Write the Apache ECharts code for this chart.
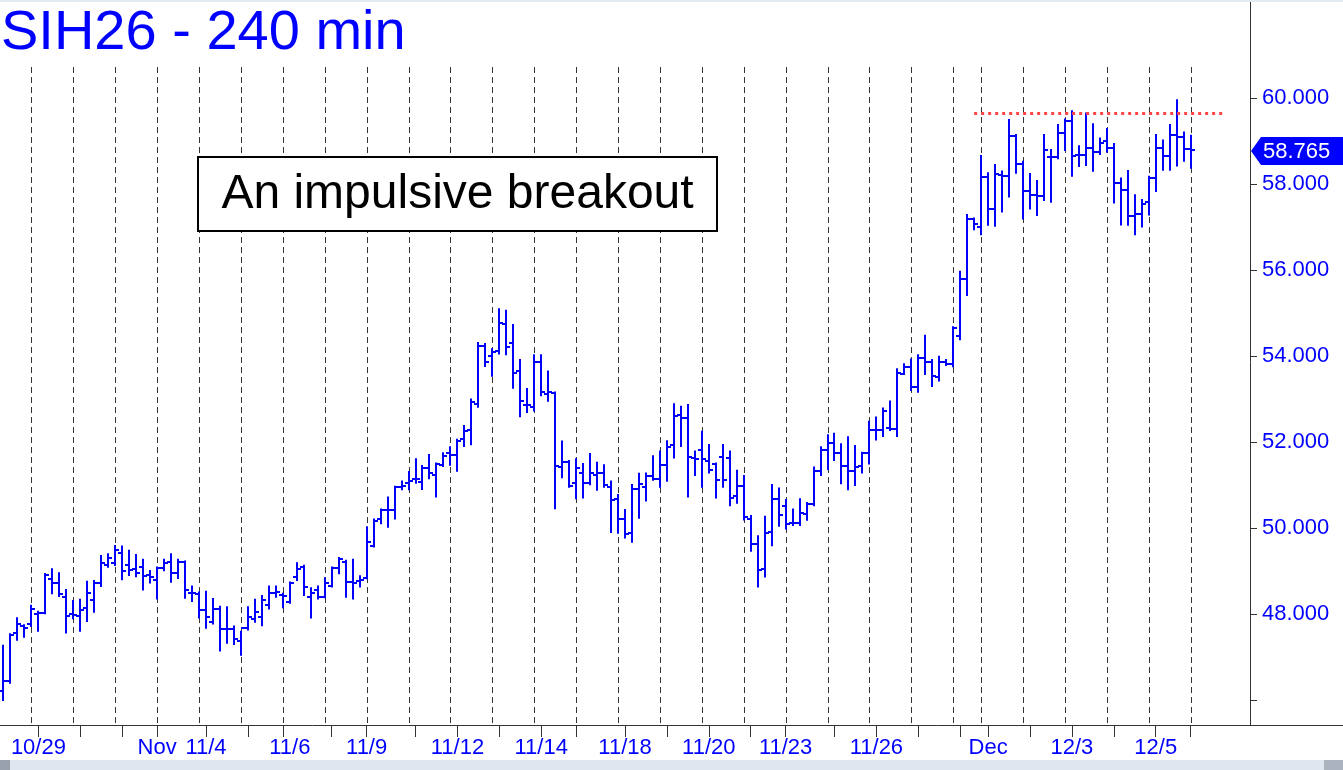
<!DOCTYPE html>
<html>
<head>
<meta charset="utf-8">
<script src="https://cdn.jsdelivr.net/npm/echarts@6/dist/echarts.min.js"></script>
<style>
html,body{margin:0;padding:0;background:#fff;}
#chart{width:1343px;height:770px;}
</style>
</head>
<body>
<div id="chart"></div>
<script>
// ---- DATA (240-minute OHLC bars, oldest first) ----
const opens = [46.20,46.45,47.57,47.72,47.76,48.00,48.03,48.81,48.71,48.40,
48.00,47.95,48.13,48.33,48.71,49.15,49.19,49.41,49.15,49.04,
49.10,48.91,48.79,49.08,49.22,48.96,49.22,48.50,48.46,48.09,
47.82,48.11,47.64,47.64,47.37,47.67,47.88,47.92,48.22,48.50,
48.44,48.29,48.85,49.10,48.40,48.56,48.40,48.64,49.08,49.22,
48.75,48.77,48.83,49.58,50.22,50.42,50.43,50.95,51.05,51.13,
51.08,51.39,51.23,51.46,51.74,51.70,52.06,52.28,52.88,54.23,
54.00,54.12,54.74,54.30,53.64,52.86,52.82,53.85,53.12,53.13,
51.43,51.53,51.05,51.29,51.05,51.23,51.27,50.96,50.67,50.20,
49.88,50.90,50.96,51.21,51.15,51.47,51.93,52.63,52.55,51.62,
51.81,51.56,51.49,51.66,51.62,50.74,50.98,50.22,49.62,49.04,
49.91,50.67,50.51,50.11,50.12,50.32,50.56,51.33,51.81,51.98,
51.75,51.44,51.33,51.44,51.74,52.28,52.28,52.32,52.30,53.58,
53.75,53.27,53.95,53.87,53.52,53.85,53.81,54.47,55.78,57.18,
57.01,58.16,57.41,58.21,58.19,59.12,58.47,57.84,57.74,57.72,
58.62,58.62,59.19,59.47,58.67,58.67,58.83,58.74,59.00,58.84,
58.02,57.86,57.26,57.30,57.57,58.13,58.84,58.65,59.14,59.09,
58.81];
const highs = [47.26,47.53,47.90,47.74,48.19,48.05,48.93,49.04,48.95,48.56,
48.30,48.33,48.75,48.77,49.35,49.39,49.58,49.57,49.47,49.37,
49.26,49.00,49.08,49.26,49.39,49.26,49.22,48.64,48.50,48.52,
48.35,48.17,48.16,47.71,47.59,48.16,48.33,48.42,48.64,48.64,
48.47,48.73,49.18,49.12,48.60,48.64,48.83,49.08,49.30,49.24,
49.26,48.88,50.02,50.20,50.43,50.71,50.96,51.08,51.30,51.60,
51.44,51.70,51.50,51.74,51.88,52.05,52.37,52.99,54.30,54.28,
54.16,55.09,55.05,54.72,53.91,53.23,54.02,54.02,53.64,53.15,
52.01,51.56,51.60,51.49,51.72,51.52,51.46,51.08,50.77,50.42,
51.00,51.26,51.27,51.67,51.78,52.02,52.88,52.82,52.86,51.78,
52.24,51.93,51.50,51.93,51.78,51.33,51.21,50.28,49.81,50.26,
51.00,50.92,50.65,50.43,50.67,50.58,51.41,51.88,52.16,52.19,
51.95,52.11,51.91,51.75,52.47,52.57,52.78,52.94,53.69,53.81,
53.92,54.02,54.47,53.91,53.98,53.91,54.67,55.96,57.28,57.20,
58.65,58.25,58.44,58.29,59.49,59.14,58.52,58.23,58.07,59.14,
58.79,59.37,59.50,59.69,58.88,59.64,59.39,59.06,59.28,58.93,
58.13,58.30,57.74,57.63,58.17,59.14,59.01,59.37,59.95,59.20,
59.12];
const lows = [46.00,46.40,47.40,47.47,47.72,47.61,48.02,48.48,48.42,47.57,
47.90,47.61,47.84,48.05,48.65,49.10,49.14,48.81,48.91,48.88,
48.57,48.73,48.36,49.02,48.75,48.84,48.38,48.30,47.92,47.68,
47.78,47.15,47.33,47.30,47.05,47.64,47.82,47.74,48.13,48.40,
48.16,48.26,48.79,48.44,47.92,48.36,48.39,48.64,48.95,48.40,
48.36,48.64,48.83,49.57,50.11,50.03,50.22,50.90,50.90,51.05,
50.91,51.16,50.73,51.44,51.47,51.33,51.91,51.95,52.82,53.77,
53.54,54.06,54.04,53.26,52.60,52.70,52.73,53.09,52.96,50.46,
51.18,50.96,50.69,50.71,51.02,50.89,50.96,49.91,49.89,49.78,
49.68,50.24,50.64,51.12,50.96,51.10,51.64,51.91,50.73,51.23,
50.96,51.29,50.71,50.96,50.53,50.59,50.20,49.47,48.64,48.87,
49.60,50.05,49.99,50.07,50.07,50.19,50.53,51.23,51.37,51.58,
51.04,50.90,51.00,51.29,51.50,52.06,52.14,52.28,52.14,53.58,
53.21,53.17,53.58,53.30,53.43,53.79,53.76,54.39,55.42,56.95,
56.83,57.05,57.03,57.36,57.71,58.26,57.20,57.43,57.28,57.63,
57.59,58.60,58.79,58.19,58.42,58.44,58.31,58.70,58.75,57.57,
57.06,57.05,56.83,57.01,57.29,57.84,58.33,58.33,58.43,58.54,
58.38];
const closes = [46.44,47.51,47.76,47.67,48.11,48.02,48.91,48.71,48.46,47.95,
47.98,48.09,48.48,48.73,49.18,49.31,49.49,49.00,49.02,48.95,
48.88,48.87,49.06,49.19,48.95,49.22,48.56,48.48,48.09,47.94,
48.11,47.64,47.64,47.41,47.67,47.94,48.04,48.33,48.50,48.52,
48.42,48.71,49.04,48.62,48.48,48.40,48.71,49.06,49.27,48.75,
48.73,48.79,49.68,50.17,50.42,50.43,50.95,50.98,51.10,51.15,
51.39,51.29,51.49,51.68,51.70,52.03,52.26,52.92,54.23,53.87,
54.10,54.76,54.20,53.60,52.95,52.86,53.87,53.17,53.17,51.44,
51.53,50.98,51.39,51.05,51.29,51.29,51.01,50.64,50.20,49.85,
50.90,51.02,51.21,51.15,51.47,51.89,52.60,52.55,51.64,51.60,
51.60,51.36,51.12,51.12,50.69,50.98,50.25,49.62,49.02,49.89,
50.67,50.30,50.09,50.12,50.36,50.56,51.33,51.81,51.98,51.75,
51.44,51.33,51.43,51.75,52.28,52.28,52.73,52.30,53.60,53.75,
53.27,53.95,53.87,53.54,53.85,53.81,54.64,55.78,57.18,57.08,
58.16,57.43,58.23,58.19,59.12,58.47,57.84,57.74,57.72,58.79,
58.62,59.18,59.47,58.65,58.67,58.83,58.74,58.96,58.84,58.02,
57.86,57.26,57.30,57.53,58.13,58.84,58.65,59.14,59.09,58.81,
58.79];

// x-axis: bar slots (extra empty slots to the right of the last bar)
const slotCount = 179;
const categories = Array.from({length: slotCount}, (_, i) => String(i));

// date labels (bar index -> text)
const labelIdx  = [5, 22, 29, 41, 52, 65, 77, 89, 101, 112, 125, 141, 153, 165];
const labelText = ['10/29','Nov','11/4','11/6','11/9','11/12','11/14','11/18','11/20','11/23','11/26','Dec','12/3','12/5'];
// x-axis tick marks (bar indices)
const tickIdx = [5,11,17,22,29,35,40,47,52,59,65,71,77,82,89,95,101,107,112,119,125,131,137,141,147,153,159,165,170];
// dashed session separators (bar indices)
const dayLineIdx = [4,10,16,22,28,34,40,46,52,58,64,70,76,82,88,94,100,106,112,118,124,130,136,140,146,152,158,164,170];

// y-axis
const yTickVals  = [46, 48, 50, 52, 54, 56, 58, 60];
const yLabelVals = [48, 50, 52, 54, 56, 58, 60];
const yMin = 45.419, yMax = 62.279;

// annotations
const lastPrice = 58.765;
const resistance = 59.66;
const resistanceFrom = 139, resistanceTo = 175;
const dayLineTopValue = 60.72;

const FONT = "'Liberation Sans', Arial, Helvetica, sans-serif";
const BLUE = '#0000ff';

const labelMap = {};
labelIdx.forEach((idx, k) => { labelMap[idx] = labelText[k]; });
const tickSet = new Set(tickIdx);

const ohlcData = opens.map((o, i) => [i, o, highs[i], lows[i], closes[i]]);

const chart = echarts.init(document.getElementById('chart'), null, {renderer: 'canvas'});

const option = {
  animation: false,
  backgroundColor: '#ffffff',
  title: {
    text: 'SIH26 - 240 min',
    left: 1, top: 6, padding: 0,
    textStyle: {fontSize: 56, color: BLUE, fontWeight: 'normal', fontFamily: FONT}
  },
  grid: {left: -3, top: 0, width: slotCount * 7, height: 725, containLabel: false},
  xAxis: {
    type: 'category',
    data: categories,
    boundaryGap: true,
    axisLine: {show: true, lineStyle: {color: '#333', width: 1}},
    axisTick: {
      show: true, alignWithLabel: true, length: 12,
      interval: (idx) => tickSet.has(idx),
      lineStyle: {color: '#333', width: 1}
    },
    axisLabel: {
      show: true,
      interval: (idx) => labelMap[idx] !== undefined,
      formatter: (v, idx) => labelMap[idx] || '',
      color: BLUE, fontSize: 22, fontFamily: FONT, margin: 12
    },
    splitLine: {show: false}
  },
  yAxis: {
    type: 'value',
    position: 'right',
    min: yMin, max: yMax,
    scale: true,
    axisLine: {show: true, lineStyle: {color: '#333', width: 1}},
    axisTick: {show: true, length: 7, customValues: yTickVals, lineStyle: {color: '#333', width: 1}},
    axisLabel: {
      show: true, customValues: yLabelVals,
      formatter: (v) => Number(v).toFixed(3),
      color: BLUE, fontSize: 22, fontFamily: FONT, margin: 12
    },
    splitLine: {show: false}
  },
  series: [
    {
      type: 'custom',
      name: 'sessions',
      data: dayLineIdx.map(i => [i, dayLineTopValue]),
      encode: {x: 0, y: 1},
      silent: true,
      z: 1,
      renderItem: (params, api) => {
        const top = api.coord([api.value(0), api.value(1)]);
        const bot = api.coord([api.value(0), yMin]);
        const x = Math.round(top[0]) + 0.5;
        return {
          type: 'line',
          shape: {x1: x, y1: top[1], x2: x, y2: bot[1]},
          style: {stroke: '#333', lineWidth: 1, lineDash: [6, 4]}
        };
      }
    },
    {
      type: 'custom',
      name: 'SIH26',
      data: ohlcData,
      encode: {x: 0, y: [1, 2, 3, 4]},
      z: 3,
      renderItem: (params, api) => {
        const i = api.value(0);
        const pO = api.coord([i, api.value(1)]);
        const pH = api.coord([i, api.value(2)]);
        const pL = api.coord([i, api.value(3)]);
        const pC = api.coord([i, api.value(4)]);
        const x = Math.round(pH[0]);
        const yO = Math.round(pO[1]);
        const yC = Math.round(pC[1]);
        const st = {stroke: BLUE, lineWidth: 2};
        return {
          type: 'group',
          children: [
            {type: 'line', shape: {x1: x, y1: pH[1] - 1, x2: x, y2: pL[1] + 1}, style: st},
            {type: 'line', shape: {x1: x - 4, y1: yO, x2: x, y2: yO}, style: st},
            {type: 'line', shape: {x1: x, y1: yC, x2: x + 4, y2: yC}, style: st}
          ]
        };
      }
    },
    {
      type: 'custom',
      name: 'resistance',
      data: [[resistanceFrom, resistance]],
      encode: {x: 0, y: 1},
      silent: true,
      z: 4,
      renderItem: (params, api) => {
        const a = api.coord([resistanceFrom, api.value(1)]);
        const b = api.coord([resistanceTo, api.value(1)]);
        const y = Math.round(a[1]) + 0.5;
        return {
          type: 'line',
          shape: {x1: a[0], y1: y, x2: b[0], y2: y},
          style: {stroke: '#ff4545', lineWidth: 3, lineDash: [3, 4]}
        };
      }
    }
  ]
};

chart.setOption(option);

// decorations that depend on scale positions
const yTag = chart.convertToPixel({yAxisIndex: 0}, lastPrice);
const axisX = chart.convertToPixel({xAxisIndex: 0}, slotCount - 1) + 3.5;
const axisY = chart.convertToPixel({yAxisIndex: 0}, yMin);

chart.setOption({
  graphic: [
    {
      type: 'rect', z: 100,
      shape: {x: 198, y: 157, width: 519, height: 74},
      style: {fill: '#ffffff', stroke: '#000000', lineWidth: 2}
    },
    {
      type: 'text', z: 101,
      x: 457.5, y: 195,
      style: {text: 'An impulsive breakout', fontSize: 48, fontFamily: FONT, fill: '#000',
              textAlign: 'center', textVerticalAlign: 'middle'}
    },
    {
      type: 'polygon', z: 100,
      shape: {points: [[axisX + 1, yTag], [axisX + 11, yTag - 14], [1343, yTag - 14], [1343, yTag + 14], [axisX + 11, yTag + 14]]},
      style: {fill: BLUE}
    },
    {
      type: 'text', z: 101,
      x: axisX + 13, y: yTag + 1,
      style: {text: lastPrice.toFixed(3), fontSize: 22, fontFamily: FONT, fill: '#ffffff',
              textAlign: 'left', textVerticalAlign: 'middle'}
    },
    {
      type: 'line', z: 100,
      shape: {x1: axisX, y1: Math.round(axisY) + 0.5, x2: 1343, y2: Math.round(axisY) + 0.5},
      style: {stroke: '#333', lineWidth: 1}
    },
    {
      type: 'rect', z: 100,
      shape: {x: 0, y: 760, width: 1343, height: 10},
      style: {fill: '#dfe6ef'}
    },
    {
      type: 'rect', z: 101,
      shape: {x: 0, y: 760, width: 10, height: 10},
      style: {fill: '#98a1ab'}
    },
    {
      type: 'rect', z: 101,
      shape: {x: 1324, y: 760, width: 19, height: 10},
      style: {fill: '#aab3bd'}
    },
    {
      type: 'rect', z: 100,
      shape: {x: 0, y: 0, width: 1343, height: 2},
      style: {fill: '#e3e9f0'}
    }
  ]
});
</script>
</body>
</html>
